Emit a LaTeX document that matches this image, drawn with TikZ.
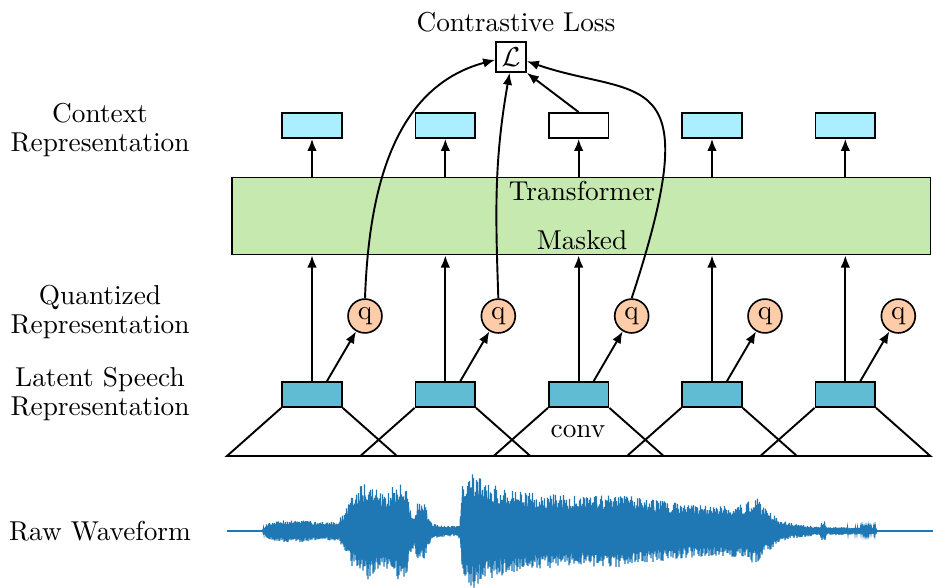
\documentclass[tikz,border=0pt]{standalone}
\usepackage{tikz}
\usepackage{xcolor}
\usetikzlibrary{arrows}
\usetikzlibrary{arrows.meta}
\usetikzlibrary{calc}
\usetikzlibrary{positioning}

\definecolor{ctxblue}{HTML}{AAEEFF}
\definecolor{latblue}{HTML}{5FBCD3}
\definecolor{qorange}{HTML}{FFCCAA}
\definecolor{tfgreen}{HTML}{C6E9AF}
\definecolor{wavblue}{HTML}{1F77B4}

\tikzset{
  ctxbox/.style={draw, fill=ctxblue, minimum width=21.9pt, minimum height=9.2pt, inner sep=0pt, line width=0.6pt},
  latbox/.style={ctxbox, fill=latblue},
  qnode/.style={draw, circle, fill=qorange, minimum size=12.4pt, inner sep=0pt, line width=0.6pt},
  lossbox/.style={draw, minimum size=11pt, inner sep=0pt, line width=0.6pt},
  lbl/.style={align=center, font=\fontsize{10}{10.3}\selectfont},
  link/.style={->, line width=0.7pt},
}

\begin{document}
\begin{tikzpicture}[>={Latex[length=4.4pt,width=3.5pt]}, x=0.366pt, y=-0.366pt]
    \useasboundingbox (0,0) rectangle (933,587);

% left labels
\node[lbl] (lctx) at (100,130) {Context\\Representation};
\node[lbl] (lqnt) at (100,312) {Quantized\\Representation};
\node[lbl] (llat) at (100,394) {Latent Speech\\Representation};
\node[lbl] (lraw) at (100,531) {Raw Waveform};

% transformer
\node[draw, fill=tfgreen, line width=0.4pt, minimum width=255.5pt, minimum height=28.5pt, inner sep=0pt] (T) at (581,216) {};
\node (ttop) at (582,191) {Transformer};
\node (tbot) at (582,240) {Masked};

\foreach \i/\f in {0/ctxblue, 1/ctxblue, 2/white, 3/ctxblue, 4/ctxblue} {
  \pgfmathsetmacro{\cx}{312+133.33*\i}
  \node[latbox] (Z\i) at (\cx,394.5) {};
  \node[qnode] (Q\i) at (\cx+53,316) {q};
  \node[ctxbox, fill=\f] (C\i) at (\cx,125.5) {};
  \coordinate (BL\i) at (\cx-85,456);
  \coordinate (BR\i) at (\cx+85,456);
  \draw[line width=0.7pt] (Z\i.south west) -- (BL\i) -- (BR\i) -- (Z\i.south east);
  \draw[link] (Z\i.north) -- (Z\i.north |- T.south);
  \draw[link] ($(Z\i.north)+(15,0)$) -- (Q\i);
  \draw[link] (C\i.south |- T.north) -- (C\i.south);
}
\node (conv) at (578,432) {conv};

% loss
\node[lossbox] (L) at (511,57) {$\mathcal{L}$};
\node (loss) at (516,22) {Contrastive Loss};
\draw[link] (Q0.north) to[out=88, in=195] (L.190);
\draw[link] (Q1.north) to[out=92, in=260] (L.265);
\draw[link] (C2.north) -- (L.south east);
\draw[link] (Q2.north) .. controls (710,60) and (640,100) .. (L.345);

% waveform
\pgfmathsetseed{3}
\foreach \xb/\ab [remember=\xb as \xa (initially 227), remember=\ab as \aa (initially 0)] in
  {262/0, 268/9, 285/11, 300/12, 320/9, 338/10, 345/20, 352/35, 360/45, 367/50,
   375/45, 382/38, 390/42, 397/48, 401/50, 407/45, 410/22, 414/18, 418/30, 421/26,
   424/30, 428/16, 432/8, 440/6, 455/5, 460/8, 462/45, 468/55, 475/58, 482/52,
   490/48, 500/45, 520/40, 540/38, 560/37, 580/35, 600/36, 615/38, 630/35, 650/32,
   680/28, 700/26, 725/25, 745/27, 752/32, 758/33, 762/25, 770/20, 778/12, 790/8,
   805/6, 820/4, 822/10, 825/10, 827/4, 840/4, 860/3, 876/3, 877/0, 933/0} {
  \pgfmathtruncatemacro{\ns}{2*(\xb-\xa)+1}
  \draw[wavblue, line width=0.5pt] plot[domain=\xa:\xb, samples=\ns]
    (\x, {531+(\aa+(\ab-\aa)*(\x-\xa)/(\xb-\xa))*cos(180*mod(round(2*\x),2))*(0.6+0.4*rnd)});
}
\end{tikzpicture}
\end{document}
